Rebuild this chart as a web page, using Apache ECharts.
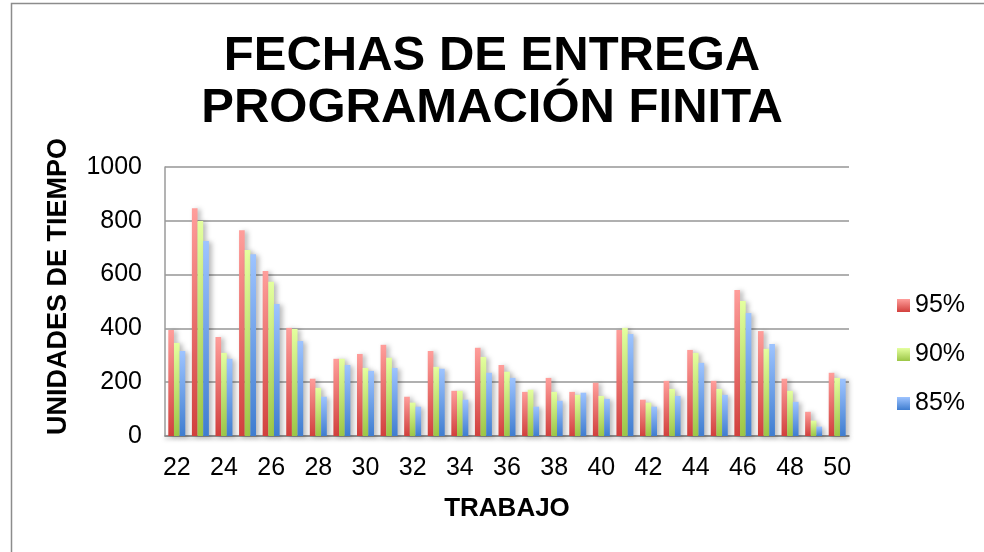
<!DOCTYPE html>
<html>
<head>
<meta charset="utf-8">
<title>Fechas de entrega - Programación finita</title>
<script src="https://cdn.jsdelivr.net/npm/echarts@6/dist/echarts.min.js"></script>
<style>
  html, body { margin: 0; padding: 0; background: #ffffff; }
  #chart { width: 984px; height: 552px; }
</style>
</head>
<body>
<div id="chart"></div>
<script>
// Job numbers on the category axis
const trabajos = ['22','23','24','25','26','27','28','29','30','31','32','33','34','35','36',
                  '37','38','39','40','41','42','43','44','45','46','47','48','49','50'];

// Delivery dates (time units) per confidence level
const p95 = [394, 847, 368, 765, 613, 402, 213, 287, 305, 339, 146, 316, 168, 328, 264,
             164, 216, 164, 198, 394, 135, 205, 320, 205, 543, 390, 213, 90, 235];
const p90 = [346, 799, 309, 691, 573, 398, 179, 287, 253, 291, 124, 257, 168, 294, 239,
             172, 164, 153, 149, 402, 124, 175, 309, 175, 502, 324, 168, 57, 216];
const p85 = [316, 725, 287, 676, 491, 353, 146, 264, 242, 253, 109, 250, 135, 235, 216,
             109, 131, 161, 138, 379, 109, 149, 272, 153, 457, 342, 127, 35, 213];

const seriesNames = ['95%', '90%', '85%'];

const FONT = '"Liberation Sans", Arial, sans-serif';

function grad(top, bottom) {
  return new echarts.graphic.LinearGradient(0, 0, 0, 1, [
    { offset: 0, color: top },
    { offset: 1, color: bottom }
  ]);
}

const fills = [
  grad('#FF9E9B', '#D2403D'),
  grad('#E4FF9F', '#9CC646'),
  grad('#9EC4FF', '#3F7DD0')
];

function barSeries(name, data, fill) {
  return {
    name: name,
    type: 'bar',
    data: data,
    barGap: '0%',
    barCategoryGap: '28%',
    itemStyle: {
      color: fill,
      shadowBlur: 5,
      shadowColor: 'rgba(0,0,0,0.28)',
      shadowOffsetX: 3,
      shadowOffsetY: 1
    },
    emphasis: { disabled: true }
  };
}

const chart = echarts.init(document.getElementById('chart'), null, { renderer: 'canvas' });

chart.setOption({
  animation: false,
  backgroundColor: '#ffffff',
  textStyle: { fontFamily: FONT },
  graphic: [{
    type: 'rect',
    silent: true,
    shape: { x: 11.5, y: 3.5, width: 1000, height: 600 },
    style: { fill: 'none', stroke: '#8c8c8c', lineWidth: 1.5 }
  }],
  title: {
    text: 'FECHAS DE ENTREGA\nPROGRAMACIÓN FINITA',
    left: 'center',
    top: 30,
    padding: [0, 0, 0, 12],
    textStyle: {
      fontFamily: FONT,
      fontSize: 49,
      fontWeight: 'bold',
      color: '#000000',
      lineHeight: 52
    }
  },
  legend: {
    orient: 'vertical',
    left: 892,
    top: 288,
    itemWidth: 13,
    itemHeight: 13,
    itemGap: 24,
    icon: 'rect',
    data: seriesNames,
    textStyle: { fontFamily: FONT, fontSize: 25, color: '#000000', lineHeight: 25 }
  },
  grid: {
    left: 165,
    right: 135,
    top: 167,
    bottom: 116
  },
  xAxis: {
    type: 'category',
    data: trabajos,
    name: 'TRABAJO',
    nameLocation: 'middle',
    nameGap: 60,
    nameTextStyle: { fontFamily: FONT, fontSize: 26, fontWeight: 'bold', color: '#000000' },
    axisLine: {
      show: true,
      lineStyle: { color: '#8a8a8a', width: 1.5, shadowBlur: 4, shadowColor: 'rgba(0,0,0,0.35)', shadowOffsetY: 2 }
    },
    axisTick: { show: false },
    axisLabel: {
      interval: 1,
      margin: 20,
      fontFamily: FONT,
      fontSize: 25,
      color: '#000000'
    },
    splitLine: { show: false }
  },
  yAxis: {
    type: 'value',
    min: 0,
    max: 1000,
    interval: 200,
    name: 'UNIDADES DE TIEMPO',
    nameLocation: 'middle',
    nameGap: 93,
    nameRotate: 90,
    nameTextStyle: {
      fontFamily: FONT, fontSize: 27, fontWeight: 'bold', color: '#000000',
      padding: [0, 0, 0, 30]
    },
    axisLine: { show: true, lineStyle: { color: '#9a9a9a', width: 1.5 } },
    axisTick: { show: false },
    axisLabel: {
      margin: 23, fontFamily: FONT, fontSize: 25, color: '#000000',
      formatter: function (v) { return String(v); }
    },
    splitLine: { show: true, lineStyle: { color: '#969696', width: 1.6 } }
  },
  series: [
    barSeries(seriesNames[0], p95, fills[0]),
    barSeries(seriesNames[1], p90, fills[1]),
    barSeries(seriesNames[2], p85, fills[2])
  ]
});
</script>
</body>
</html>
